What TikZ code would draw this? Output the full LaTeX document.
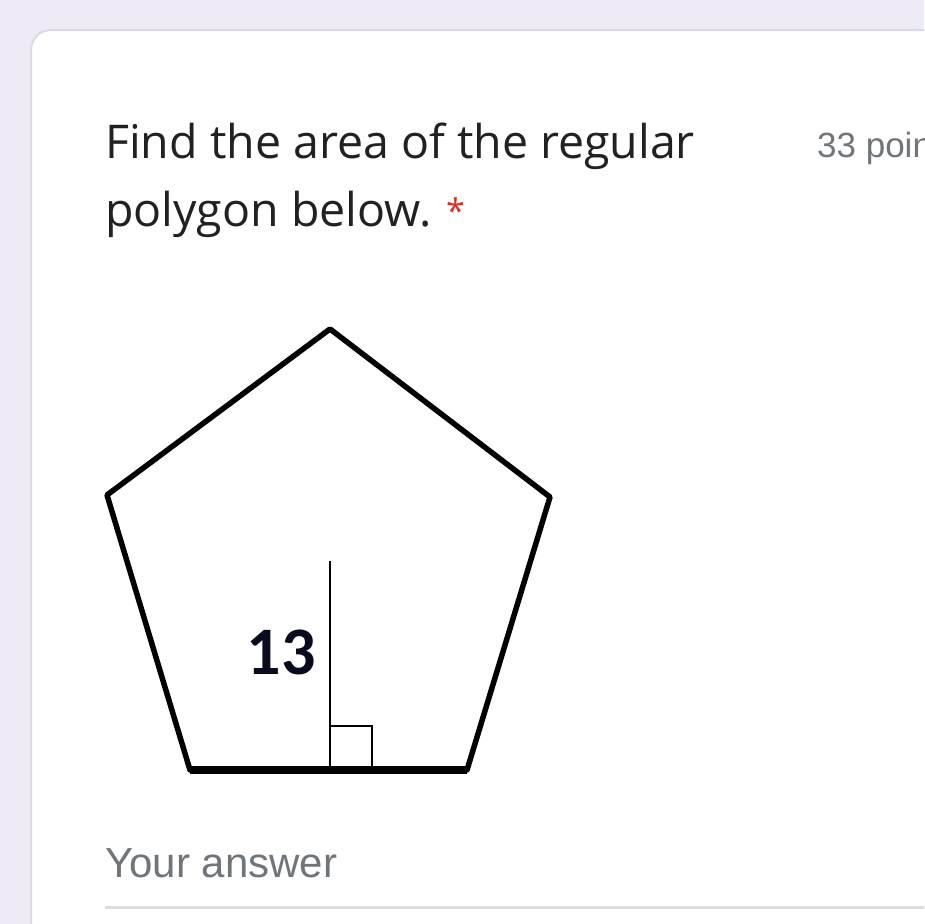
\documentclass[tikz,border=0pt]{standalone}
\usepackage{fontspec}
\setmainfont{Open Sans}
\newfontfamily\robfont{Liberation Sans}
\newfontfamily\carfont{Carlito}
\definecolor{bgl}{HTML}{EEEBF6}
\definecolor{cardb}{HTML}{DADCE0}
\definecolor{gtxt}{HTML}{70757A}
\definecolor{req}{HTML}{D93025}
\definecolor{lab}{HTML}{0A0A1E}
\tikzset{
  edge/.style={line width=5.5pt, line join=round, line cap=round},
  thin/.style={line width=2pt},
  qtext/.style={anchor=base west, inner sep=0pt, font=\fontsize{46.5}{54}\selectfont, text=black!87},
}
\begin{document}
\begin{tikzpicture}[x=1pt,y=-1pt]
\useasboundingbox (0,0) rectangle (924,924);
\clip (0,0) rectangle (924,924);
\fill[bgl] (0,0) rectangle (924,924);
\draw[cardb, fill=white, line width=2pt, rounded corners=20pt] (31,30) rectangle (990,990);
\node[qtext] (q1) at (105,158) {Find the area of the regular};
\node[qtext] (q2) at (105,226) {polygon below.};
\node[anchor=base west, inner sep=0pt, text=req, font=\fontsize{34}{40}\selectfont] (star) at (446,223) {*};
\node[anchor=base west, inner sep=0pt, text=gtxt, font=\robfont\fontsize{35}{42}\selectfont] (pts) at (817,157) {33 points};
% pentagon
\coordinate (T) at (330,329);
\coordinate (UL) at (107,495);
\coordinate (UR) at (550,497);
\coordinate (LL) at (190,770);
\coordinate (LR) at (467,770);
\draw[edge] (LL) -- (UL) -- (T) -- (UR) -- (LR);
\draw[line width=8pt] (LL) -- (LR);
\coordinate (A) at (330,561);
\coordinate (F) at (330,767);
\draw[thin] (A) -- (F);
\coordinate (S1) at (330,726);
\coordinate (S2) at (372,726);
\coordinate (S3) at (372,767);
\draw[thin] (S1) -- (S2) -- (S3);
\node[anchor=base east, inner sep=0pt, text=lab, font=\carfont\bfseries\fontsize{68}{76}\selectfont] (h) at (316,674) {13};
\node[anchor=base west, inner sep=0pt, text=gtxt, font=\robfont\fontsize{42}{50}\selectfont] (ans) at (105,877) {Your answer};
\coordinate (u1) at (105,907);
\coordinate (u2) at (930,907);
\draw[cardb, line width=3pt] (u1) -- (u2);
\end{tikzpicture}
\end{document}
